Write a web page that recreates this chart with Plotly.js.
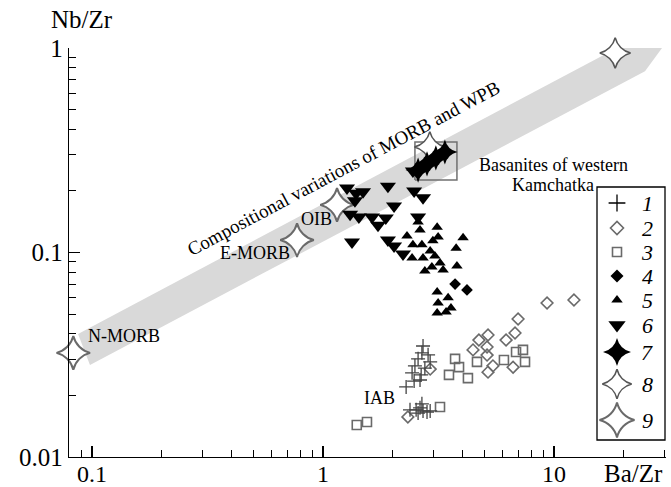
<!DOCTYPE html>
<html><head><meta charset="utf-8">
<script src="https://cdn.plot.ly/plotly-3.0.1.min.js"></script>
<style>html,body{margin:0;padding:0;background:#fff}#chart{width:671px;height:487px}</style>
</head><body><div id="chart"></div>
<script>
// ---- data (Ba/Zr, Nb/Zr) ----
const legendLabels = ['1','2','3','4','5','6','7','8','9'];
const xTickVals = [0.1, 1, 10];   const xTickText = ['0.1', '1', '10'];
const yTickVals = [0.01, 0.1, 1]; const yTickText = ['0.01', '0.1', '1'];

const s1BaZr = [2.71,2.68,2.85,2.58,2.91,2.50,2.76,2.43,2.66,2.48,2.63,2.29,2.38,2.53,2.63,2.71,2.82,2.68,2.91,2.58];
const s1NbZr = [0.0349,0.0323,0.0316,0.0302,0.0292,0.0279,0.0272,0.0258,0.0252,0.0235,0.0238,0.0220,0.0170,0.0170,0.0174,0.0168,0.0166,0.0182,0.0168,0.0164];

const s2BaZr = [12.2,9.33,6.99,6.78,6.20,5.18,4.73,4.46,5.13,5.13,5.44,5.18,6.65,2.91,2.33];
const s2NbZr = [0.0586,0.0566,0.0473,0.0404,0.0373,0.0395,0.0373,0.0334,0.0345,0.0315,0.0279,0.0260,0.0275,0.0269,0.0157];

const s3BaZr = [3.73,3.88,3.51,4.24,4.64,6.07,6.85,7.34,7.49,3.21,1.40,1.55];
const s3NbZr = [0.0302,0.0275,0.0252,0.0243,0.0292,0.0298,0.0326,0.0334,0.0292,0.01756,0.01433,0.01483];

const s4BaZr = [3.73,4.20];
const s4NbZr = [0.0701,0.0656];

const s5BaZr = [3.12,2.58,2.63,2.31,3.15,2.99,4.04,3.77,2.45,2.68,2.91,2.43,2.71,3.05,3.21,2.96,3.31,2.76,3.80,3.12,3.48,3.15,3.58,3.12,3.41];
const s5NbZr = [0.133,0.141,0.129,0.1205,0.119,0.114,0.118,0.105,0.109,0.109,0.1017,0.094,0.094,0.0961,0.0889,0.0849,0.0821,0.0812,0.0859,0.0641,0.060,0.0566,0.0535,0.0506,0.0512];

const s6BaZr = [1.27,1.39,1.49,1.91,2.45,2.48,2.71,1.375,2.03,1.31,1.43,1.63,1.73,1.87,2.58,1.335,1.91,2.03,2.22];
const s6NbZr = [0.207,0.195,0.198,0.211,0.250,0.200,0.185,0.179,0.169,0.154,0.149,0.149,0.136,0.1475,0.149,0.1125,0.115,0.1075,0.0984];

const s7BaZr = [3.37,3.08,2.82,2.58];
const s7NbZr = [0.310,0.290,0.271,0.253];

const s8BaZr = [18.4,2.90];
const s8NbZr = [0.945,0.328];

const s9BaZr = [0.083,0.772,1.15];
const s9NbZr = [0.0323,0.115,0.171];

// field of compositional variations of MORB and WPB (polygon vertices)
const bandBaZr = [0.0870,18.74,29.35,24.77,0.0980,0.0870];
const bandNbZr = [0.0400,1.0,1.0,0.770,0.0282,0.0400];

// frame around the basanites of western Kamchatka
const boxBaZr = [2.50,3.80,3.80,2.50,2.50];
const boxNbZr = [0.226,0.226,0.347,0.347,0.226];

// ---- styles ----
const GREY = '#6a6a6a';
const FONT = 'Liberation Serif, Times New Roman, serif';
const styles = [
  {symbol:'cross-thin-open', size:10, color:'#444', line:{color:'#444', width:1.3}},
  {symbol:'diamond-open', size:9, color:GREY, line:{color:GREY, width:1.6}},
  {symbol:'square-open', size:9, color:GREY, line:{color:GREY, width:1.6}},
  {symbol:'diamond', size:9, color:'#000', line:{width:0}},
  {symbol:'triangle-up', size:10, color:'#000', line:{width:0}},
  {symbol:'triangle-down', size:14, color:'#000', line:{width:0}},
  {symbol:'star-diamond', size:18, color:'#000', line:{width:0}},
  {symbol:'star-diamond', size:22, color:'#fff', line:{color:'#555', width:1.6}},
  {symbol:'star-diamond', size:24, color:'#fff', line:{color:GREY, width:2}}
];
const legendSizes = [12, 10, 9, 10, 10, 15, 20, 21, 25];
const legendRowY = [203, 228, 252, 276, 300, 325, 352, 384, 420];
const legendSymX = 617, legendNumX = 647;

const seriesX = [s1BaZr,s2BaZr,s3BaZr,s4BaZr,s5BaZr,s6BaZr,s7BaZr,s8BaZr,s9BaZr];
const seriesY = [s1NbZr,s2NbZr,s3NbZr,s4NbZr,s5NbZr,s6NbZr,s7NbZr,s8NbZr,s9NbZr];
const drawOrder = [8,7,1,2,0,4,3,5,6];

const traces = [];
traces.push({type:'scatter', mode:'lines', x:bandBaZr, y:bandNbZr, fill:'toself',
  fillcolor:'#d9d9d9', line:{width:0}, hoverinfo:'skip', showlegend:false});
traces.push({type:'scatter', mode:'lines', x:boxBaZr, y:boxNbZr,
  line:{color:'#707070', width:1.5}, hoverinfo:'skip', showlegend:false});
drawOrder.forEach(i => {
  const st = styles[i];
  traces.push({type:'scatter', mode:'markers', x:seriesX[i], y:seriesY[i], name:legendLabels[i],
    cliponaxis:false, showlegend:false, hoverinfo:'skip',
    marker:{symbol:st.symbol, size:st.size, color:st.color, line:st.line}});
});
// manual legend symbols (overlay axes in pixel units)
legendLabels.forEach((lab, i) => {
  const st = styles[i];
  const line = Object.assign({}, st.line);
  if (i === 0) { line.color = '#000'; }
  traces.push({type:'scatter', mode:'markers', x:[legendSymX], y:[legendRowY[i]], xaxis:'x2', yaxis:'y2',
    cliponaxis:false, showlegend:false, hoverinfo:'skip',
    marker:{symbol:st.symbol, size:legendSizes[i], color: i===0 ? '#000' : st.color, line:line}});
});

const ann = [];
function txt(text, x, y, size, xanchor, extra) {
  ann.push(Object.assign({text:text, x:x, y:y, xref:'x2', yref:'y2', showarrow:false,
    xanchor:xanchor||'center', yanchor:'middle', font:{family:FONT, size:size, color:'#000'}}, extra||{}));
}
txt('N-MORB', 86, 336, 18, 'left');
txt('E-MORB', 292, 253, 18, 'right');
txt('OIB', 334, 219, 18, 'right');
txt('IAB', 397, 398, 18, 'right');
txt('Basanites of western', 553, 165, 18, 'center');
txt('Kamchatka', 553, 185, 18, 'center');
txt('Compositional variations of MORB and WPB', 343, 168, 19, 'center', {textangle:-28});
legendLabels.forEach((lab, i) => txt('<i>' + lab + '</i>', legendNumX, legendRowY[i], 22, 'center'));

const layout = {
  width:671, height:487,
  margin:{l:69, r:5, t:48, b:30, pad:0},
  paper_bgcolor:'#fff', plot_bgcolor:'#fff',
  font:{family:FONT, color:'#000'},
  showlegend:false,
  xaxis:{type:'log', range:[-1.0996, 1.4848], tickmode:'array', tickvals:xTickVals, ticktext:xTickText,
    ticks:'inside', ticklen:11, tickwidth:1.2, tickcolor:'#000', showline:true, linecolor:'#000', linewidth:1.3,
    showgrid:false, zeroline:false, tickfont:{family:FONT, size:24, color:'#000'}, ticklabelstandoff:-5,
    minor:{ticks:'inside', ticklen:7, tickwidth:1.1, tickcolor:'#000', dtick:'D1', showgrid:false}, fixedrange:true},
  yaxis:{type:'log', range:[-2, 0], tickmode:'array', tickvals:yTickVals, ticktext:yTickText,
    ticks:'inside', ticklen:11, tickwidth:1.2, tickcolor:'#000', showline:true, linecolor:'#000', linewidth:1.3,
    showgrid:false, zeroline:false, tickfont:{family:FONT, size:25, color:'#000'},
    minor:{ticks:'inside', ticklen:7, tickwidth:1.1, tickcolor:'#000', dtick:'D1', showgrid:false}, fixedrange:true},
  xaxis2:{overlaying:'x', anchor:'y2', range:[69, 666], visible:false, fixedrange:true},
  yaxis2:{overlaying:'y', anchor:'x2', range:[457, 48], visible:false, fixedrange:true},
  annotations: ann.concat([
    {text:'Nb/Zr', xref:'paper', yref:'paper', x:(82-69)/597, y:(457-20)/409, xanchor:'center', yanchor:'middle',
     showarrow:false, font:{family:FONT, size:25, color:'#000'}},
    {text:'Ba/Zr', xref:'paper', yref:'paper', x:(633-69)/597, y:(457-473)/409, xanchor:'center', yanchor:'middle',
     showarrow:false, font:{family:FONT, size:25, color:'#000'}}
  ]),
  shapes:[{type:'rect', xref:'x2', yref:'y2', x0:597, x1:665, y0:187, y1:440, line:{color:'#000', width:1.3}, fillcolor:'rgba(0,0,0,0)'}]
};
Plotly.newPlot('chart', traces, layout, {staticPlot:true, displayModeBar:false});
</script>
</body></html>
